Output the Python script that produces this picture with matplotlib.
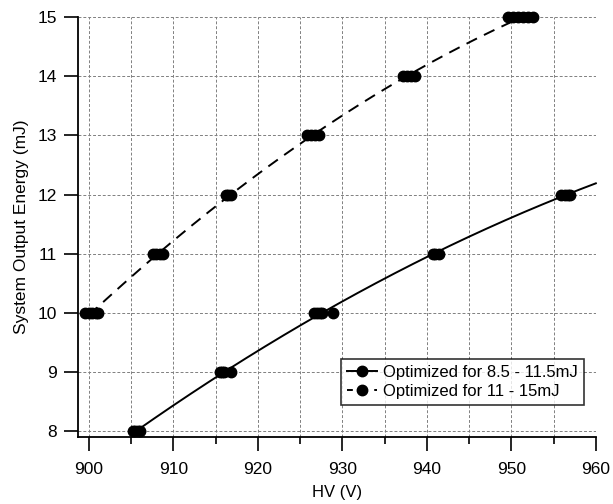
import numpy as np
import matplotlib
matplotlib.use("Agg")
import matplotlib.pyplot as plt

# Series: Optimized for 8.5 - 11.5mJ (solid)
solid_x = [905.2, 905.5, 905.8, 906.1,
           915.5, 915.8, 916.0, 916.8,
           926.7, 927.0, 927.3, 927.6, 928.9,
           940.7, 941.0, 941.4,
           955.9, 956.3, 956.7, 957.0]
solid_y = [8, 8, 8, 8,
           9, 9, 9, 9,
           10, 10, 10, 10, 10,
           11, 11, 11,
           12, 12, 12, 12]

# Series: Optimized for 11 - 15mJ (dashed)
dash_x = [899.6, 900.0, 900.4, 900.8, 901.1,
          907.6, 908.0, 908.4, 908.8,
          916.2, 916.5, 916.8,
          925.8, 926.3, 926.8, 927.2,
          937.2, 937.6, 938.1, 938.6,
          949.6, 950.2, 950.8, 951.4, 952.0, 952.6]
dash_y = [10, 10, 10, 10, 10,
          11, 11, 11, 11,
          12, 12, 12,
          13, 13, 13, 13,
          14, 14, 14, 14,
          15, 15, 15, 15, 15, 15]

labels = ["Optimized for 8.5 - 11.5mJ", "Optimized for 11 - 15mJ"]
x_ticks = [900, 910, 920, 930, 940, 950, 960]
y_ticks = [8, 9, 10, 11, 12, 13, 14, 15]

plt.rcParams['font.family'] = ['Liberation Sans', 'DejaVu Sans']

fig = plt.figure(figsize=(6.13, 5.04), dpi=100)
ax = fig.add_axes([0.127, 0.133, 0.845, 0.833])

# fitted trend lines from the data
ps = np.polyfit(solid_x, solid_y, 2)
xs = np.linspace(min(solid_x) + 0.3, 960, 200)
pd_ = np.polyfit(dash_x, dash_y, 2)
xd = np.linspace(min(dash_x) + 0.4, 950.3, 200)

ax.plot(xs, np.polyval(ps, xs), color='black', lw=1.4, zorder=3, clip_on=False)
ax.plot(xd, np.polyval(pd_, xd), color='black', lw=1.4, ls=(0, (6, 4)), zorder=3,
        clip_on=False)
ax.plot(solid_x, solid_y, 'o', color='black', ms=7.5, zorder=4, clip_on=False)
ax.plot(dash_x, dash_y, 'o', color='black', ms=7.5, zorder=4, clip_on=False)

# legend handles
h1, = ax.plot([], [], color='black', lw=1.4, marker='o', ms=7.5)
h2, = ax.plot([], [], color='black', lw=1.4, ls=(0, (3, 4)), marker='o', ms=7.5)
leg = ax.legend([h1, h2], labels, loc='lower right', bbox_to_anchor=(0.977, 0.076),
                borderaxespad=0, frameon=True, fancybox=False, fontsize=12,
                handlelength=1.8, borderpad=0.35, labelspacing=0.25,
                handletextpad=0.4)
leg.get_frame().set_edgecolor('black')
leg.get_frame().set_linewidth(1.2)
leg.set_zorder(5)

ax.set_xlim(898.7, 960)
ax.set_ylim(7.9, 15)
ax.set_xticks(x_ticks)
ax.set_xticks([905, 915, 925, 935, 945, 955], minor=True)
ax.set_yticks(y_ticks)

ax.grid(True, which='both', axis='x', color='#808080', lw=0.7, ls=(0, (3, 2)))
ax.grid(True, which='major', axis='y', color='#808080', lw=0.7, ls=(0, (3, 2)))
ax.set_axisbelow(True)

for s in ['top', 'right']:
    ax.spines[s].set_visible(False)
for s in ['left', 'bottom']:
    ax.spines[s].set_linewidth(1.3)

ax.tick_params(axis='both', which='major', direction='out', length=10, width=1.2,
               labelsize=12.5)
ax.tick_params(axis='x', which='major', pad=8)
ax.tick_params(axis='y', which='major', pad=5)
ax.tick_params(axis='x', which='minor', direction='out', length=5, width=1.2)

ax.set_xlabel("HV (V)", fontsize=12, labelpad=6)
ax.set_ylabel("System Output Energy (mJ)", fontsize=12.5, labelpad=6)

fig.savefig("out.png", dpi=100)
